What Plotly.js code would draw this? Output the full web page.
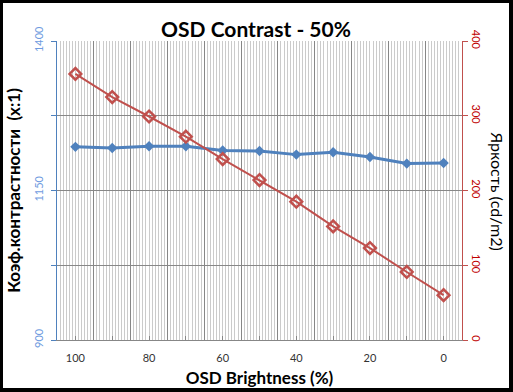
<!DOCTYPE html>
<html>
<head>
<meta charset="utf-8">
<script src="https://cdn.plot.ly/plotly-3.0.1.min.js"></script>
<style>
html,body{margin:0;padding:0;background:#000;width:513px;height:392px;overflow:hidden;}
#chart{position:absolute;left:3px;top:3px;width:506px;height:385px;background:#fff;}
</style>
</head>
<body>
<div id="chart"></div>
<script>
// Data
const brightness = [100, 90, 80, 70, 60, 50, 40, 30, 20, 10, 0];
const contrast = [1223, 1221, 1224, 1224, 1217, 1216, 1210, 1214, 1206, 1195, 1196];
const luminance = [356, 325, 299, 272, 242, 214, 185, 152, 123, 91, 60];
const xTickLabels = ['100', '', '80', '', '60', '', '40', '', '20', '', '0'];
const leftTicks = [900, 1025, 1150, 1275, 1400];
const leftTickText = ['900', '', '1150', '', '1400'];
const rightTicks = [0, 100, 200, 300, 400];
const boundaries = [105, 95, 85, 75, 65, 55, 45, 35, 25, 15, 5, -5];

const FONT = 'Lato, "Open Sans", sans-serif';
const GRID = '#878787';

const traces = [
  {
    x: [], y: [], xaxis: 'x2', yaxis: 'y', mode: 'lines', showlegend: false, hoverinfo: 'skip'
  },
  {
    x: brightness, y: contrast, xaxis: 'x', yaxis: 'y', type: 'scatter', mode: 'lines+markers',
    name: 'Contrast', line: {color: '#4f81bd', width: 3},
    marker: {symbol: 'diamond', size: 8, color: '#4f81bd'}
  },
  {
    x: brightness, y: luminance, xaxis: 'x', yaxis: 'y2', type: 'scatter', mode: 'lines+markers',
    name: 'Luminance', line: {color: '#c0504d', width: 2},
    marker: {symbol: 'diamond-open', size: 9, color: '#c0504d', line: {width: 2.5, color: '#c0504d'}}
  }
];

const layout = {
  width: 506, height: 385,
  margin: {l: 54, r: 47, t: 38, b: 48},
  paper_bgcolor: '#fff', plot_bgcolor: '#fff',
  showlegend: false,
  title: {
    text: '<b>OSD Contrast - 50%</b>',
    font: {family: FONT, size: 21, color: '#000'},
    x: 0.5, xref: 'container', xanchor: 'center',
    y: 0.93, yref: 'container', yanchor: 'middle'
  },
  xaxis: {
    range: [105, -5],
    tickvals: brightness, ticktext: xTickLabels,
    ticks: 'inside', ticklen: 4, tickcolor: GRID,
    ticklabelstandoff: 8,
    showgrid: false, zeroline: false,
    showline: true, linecolor: GRID, linewidth: 1,
    tickfont: {family: FONT, size: 11, color: '#333'},
    minor: {tick0: 5, dtick: 10 / 12, showgrid: true, gridcolor: '#cbcbcb', gridwidth: 1, ticks: ''},
    title: {text: '<b>OSD Brightness (%)</b>', font: {family: FONT, size: 17, color: '#000'}, standoff: 9}
  },
  xaxis2: {
    overlaying: 'x', range: [105, -5], side: 'bottom',
    tickvals: boundaries, showticklabels: false, ticks: '',
    showgrid: true, gridcolor: GRID, gridwidth: 1, zeroline: false, showline: false
  },
  yaxis: {
    range: [900, 1400],
    tickvals: leftTicks, ticktext: leftTickText, tickangle: -90,
    ticks: 'outside', ticklen: 5, tickcolor: '#4f81bd',
    ticklabelstandoff: 4,
    showgrid: true, gridcolor: GRID, gridwidth: 1, zeroline: false,
    showline: true, linecolor: '#4f81bd', linewidth: 1,
    tickfont: {family: FONT, size: 11, color: '#6f9be0'},
    title: {text: '<b>Коэф.контрастности  (x:1)</b>', font: {family: FONT, size: 17, color: '#000'}, standoff: 8}
  },
  yaxis2: {
    overlaying: 'y', side: 'right', range: [0, 400],
    tickvals: rightTicks, tickangle: 90,
    ticks: 'outside', ticklen: 5, tickcolor: '#c0504d',
    showgrid: false, zeroline: false,
    showline: true, linecolor: '#c0504d', linewidth: 1,
    tickfont: {family: FONT, size: 11, color: '#c00000'}
  },
  annotations: [
    {
      text: 'Яркость (cd/m2)', textangle: 90,
      xref: 'paper', yref: 'paper', x: 1, xshift: 35, y: 0.5,
      xanchor: 'center', yanchor: 'middle', showarrow: false,
      font: {family: FONT, size: 16, color: '#000'}
    }
  ]
};

Plotly.newPlot('chart', traces, layout, {displayModeBar: false, staticPlot: true});
</script>
</body>
</html>
